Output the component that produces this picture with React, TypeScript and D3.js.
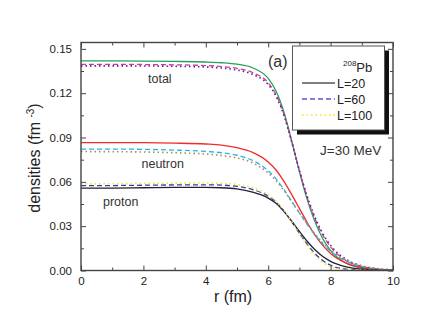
import React, { useEffect, useRef } from "react";
import * as d3 from "d3";

// radius grid (fm)
const radius = [0, 1, 2, 3, 4, 4.5, 5, 5.5, 6, 6.25, 6.5, 6.75, 7, 7.25, 7.5, 7.75, 8, 8.5, 9, 9.5, 10];

// total densities
const totalL20 = [0.1418, 0.1418, 0.1417, 0.1415, 0.1411, 0.1406, 0.1396, 0.1372, 0.13, 0.1215, 0.1075, 0.088, 0.067, 0.048, 0.033, 0.0215, 0.0135, 0.005, 0.0017, 0.0005, 0.0001];
const totalL60 = [0.1395, 0.1395, 0.1394, 0.1392, 0.1387, 0.138, 0.1368, 0.134, 0.127, 0.119, 0.106, 0.0875, 0.0675, 0.0495, 0.035, 0.024, 0.016, 0.0068, 0.0027, 0.001, 0.0003];
const totalL100 = [0.1385, 0.1385, 0.1384, 0.1382, 0.1377, 0.137, 0.1357, 0.1328, 0.1258, 0.118, 0.1052, 0.0872, 0.0677, 0.0502, 0.036, 0.025, 0.017, 0.0075, 0.0031, 0.0012, 0.0004];

// neutron densities
const neutronL20 = [0.0866, 0.0866, 0.0865, 0.0862, 0.0856, 0.0849, 0.0832, 0.08, 0.0735, 0.068, 0.0605, 0.0515, 0.042, 0.0325, 0.024, 0.017, 0.0115, 0.005, 0.002, 0.0008, 0.0003];
const neutronL60 = [0.0822, 0.0822, 0.082, 0.0815, 0.0806, 0.0797, 0.078, 0.0745, 0.0675, 0.062, 0.055, 0.047, 0.039, 0.0312, 0.0242, 0.018, 0.013, 0.0063, 0.0028, 0.0011, 0.0004];
const neutronL100 = [0.0805, 0.0804, 0.0802, 0.0797, 0.0788, 0.0778, 0.0762, 0.0728, 0.066, 0.0608, 0.0542, 0.0466, 0.039, 0.0316, 0.0248, 0.0188, 0.0138, 0.007, 0.0032, 0.0013, 0.0005];

// proton densities
const protonL20 = [0.0557, 0.0558, 0.056, 0.0562, 0.0562, 0.056, 0.0552, 0.053, 0.049, 0.0455, 0.04, 0.0335, 0.0265, 0.0198, 0.014, 0.0095, 0.0062, 0.0025, 0.0009, 0.0003, 0.0001];
const protonL60 = [0.0574, 0.0575, 0.0577, 0.0579, 0.058, 0.0578, 0.057, 0.0548, 0.0503, 0.0463, 0.0405, 0.033, 0.0252, 0.0178, 0.0115, 0.0067, 0.0036, 0.0009, 0.0002, 0.0001, 0];
const protonL100 = [0.0586, 0.0587, 0.0589, 0.0591, 0.0592, 0.059, 0.0582, 0.056, 0.0512, 0.047, 0.041, 0.0332, 0.0248, 0.0168, 0.0102, 0.0055, 0.0027, 0.0005, 0.0001, 0, 0];

const xTicks = [0, 2, 4, 6, 8, 10];
const yTicks = [0, 0.03, 0.06, 0.09, 0.12, 0.15];
const legendLabels = ["L=20", "L=60", "L=100"];

const series = [
  { values: totalL20, color: "#1fa35a", dash: null },
  { values: totalL60, color: "#ec2aa0", dash: "5,3" },
  { values: totalL100, color: "#4a2e8c", dash: "1.5,3" },
  { values: neutronL20, color: "#ef2b2b", dash: null },
  { values: neutronL60, color: "#26b4ea", dash: "5,3" },
  { values: neutronL100, color: "#a58f52", dash: "1.5,3" },
  { values: protonL20, color: "#222233", dash: null },
  { values: protonL60, color: "#3838b0", dash: "5,3" },
  { values: protonL100, color: "#f4e81a", dash: "1.5,3" },
];
const legendStyles = [
  { color: "#555555", dash: null },
  { color: "#5a5ad0", dash: "5,3" },
  { color: "#f4e81a", dash: "1.5,3" },
];

const W = 442;
const H = 333;
const margin = { top: 42.5, right: 49, bottom: 62.5, left: 81 };
const font = "'Liberation Sans', Arial, sans-serif";
const axisColor = "#444";

export default function App() {
  const svgRef = useRef<SVGSVGElement>(null);

  useEffect(() => {
    const svg = d3.select(svgRef.current);
    svg.selectAll("*").remove();

    const x = d3.scaleLinear().domain([0, 10]).range([margin.left, W - margin.right]);
    const y = d3.scaleLinear().domain([0, 0.1543]).range([H - margin.bottom, margin.top]);

    const line = d3
      .line<number>()
      .x((_, i) => x(radius[i]))
      .y((d) => y(d))
      .curve(d3.curveMonotoneX);

    const plot = svg.append("g");
    series.forEach((s) => {
      plot
        .append("path")
        .attr("d", line(s.values))
        .attr("fill", "none")
        .attr("stroke", s.color)
        .attr("stroke-width", s.dash === "1.5,3" ? 1.6 : 1.3)
        .attr("stroke-dasharray", s.dash);
    });

    // axes, ticks pointing inward
    const styleAxis = (g: any) => {
      g.select(".domain").remove();
      g.selectAll("line").attr("stroke", axisColor).attr("stroke-width", 1);
      g.selectAll("text").attr("fill", "#222").style("font-family", font).style("font-size", "11.5px");
    };
    const xMinor = d3.range(1, 10, 2);
    const yMinor = d3.range(0.015, 0.16, 0.03);

    const bottom = (t: number[], size: number, labels: boolean) =>
      svg
        .append("g")
        .attr("transform", `translate(0,${y(0)})`)
        .call(d3.axisBottom(x).tickValues(t).tickSize(-size).tickPadding(6).tickFormat(labels ? d3.format("d") : () => ""))
        .call(styleAxis);
    bottom(xTicks, 5, true);
    bottom(xMinor, 3, false);

    const top = (t: number[], size: number) =>
      svg
        .append("g")
        .attr("transform", `translate(0,${margin.top})`)
        .call(d3.axisTop(x).tickValues(t).tickSize(-size).tickFormat(() => ""))
        .call(styleAxis);
    top(xTicks, 5);
    top(xMinor, 3);

    const left = (t: number[], size: number, labels: boolean) =>
      svg
        .append("g")
        .attr("transform", `translate(${margin.left},0)`)
        .call(d3.axisLeft(y).tickValues(t).tickSize(-size).tickPadding(9).tickFormat(labels ? d3.format(".2f") : () => ""))
        .call(styleAxis);
    left(yTicks, 5, true);
    left(yMinor, 3, false);

    const right = (t: number[], size: number) =>
      svg
        .append("g")
        .attr("transform", `translate(${W - margin.right},0)`)
        .call(d3.axisRight(y).tickValues(t).tickSize(-size).tickFormat(() => ""))
        .call(styleAxis);
    right(yTicks, 5);
    right(yMinor, 3);

    svg
      .append("rect")
      .attr("x", margin.left)
      .attr("y", margin.top)
      .attr("width", W - margin.right - margin.left)
      .attr("height", y(0) - margin.top)
      .attr("fill", "none")
      .attr("stroke", axisColor)
      .attr("stroke-width", 1.4);

    // axis titles
    svg
      .append("text")
      .attr("x", 233)
      .attr("y", 302)
      .attr("text-anchor", "middle")
      .style("font-family", font)
      .style("font-size", "16px")
      .attr("fill", "#222")
      .text("r (fm)");

    const yl = svg
      .append("text")
      .attr("transform", `translate(40,158) rotate(-90)`)
      .attr("text-anchor", "middle")
      .style("font-family", font)
      .style("font-size", "16px")
      .attr("fill", "#222");
    yl.append("tspan").text("densities (fm ");
    yl.append("tspan").attr("dy", -6).style("font-size", "10px").text("-3");
    yl.append("tspan").attr("dy", 6).text(")");

    // curve labels
    const label = (t: string, lx: number, ly: number, size = 12.5) =>
      svg
        .append("text")
        .attr("x", lx)
        .attr("y", ly)
        .style("font-family", font)
        .style("font-size", `${size}px`)
        .attr("fill", "#333")
        .text(t);
    label("total", 148, 82.5);
    label("neutron", 141.5, 168);
    label("proton", 103, 206);
    label("(a)", 268, 67, 16);
    label("J=30 MeV", 320, 155, 13.5);

    // legend
    const lg = { x: 292.5, y: 46, w: 92, h: 84 };
    svg.append("rect").attr("x", lg.x + 4.5).attr("y", lg.y + 4.5).attr("width", lg.w).attr("height", lg.h).attr("fill", "#111");
    svg
      .append("rect")
      .attr("x", lg.x)
      .attr("y", lg.y)
      .attr("width", lg.w)
      .attr("height", lg.h)
      .attr("fill", "#fff")
      .attr("stroke", "#555")
      .attr("stroke-width", 1);
    const pb = svg
      .append("text")
      .attr("x", 343)
      .attr("y", 72)
      .style("font-family", font)
      .style("font-size", "13px")
      .attr("fill", "#222");
    pb.append("tspan").attr("dy", -6).style("font-size", "8px").text("208");
    pb.append("tspan").attr("dy", 6).text("Pb");

    legendLabels.forEach((t, i) => {
      const ly = 83 + i * 16;
      svg
        .append("line")
        .attr("x1", 302)
        .attr("x2", 335)
        .attr("y1", ly)
        .attr("y2", ly)
        .attr("stroke", legendStyles[i].color)
        .attr("stroke-width", legendStyles[i].dash === "1.5,3" ? 1.6 : 1.3)
        .attr("stroke-dasharray", legendStyles[i].dash);
      svg
        .append("text")
        .attr("x", 337)
        .attr("y", ly + 4.5)
        .style("font-family", font)
        .style("font-size", "12.5px")
        .attr("fill", "#222")
        .text(t);
    });
  }, []);

  return (
    <svg
      ref={svgRef}
      width={W}
      height={H}
      style={{ position: "absolute", left: 0, top: 0, background: "#fff" }}
    />
  );
}
